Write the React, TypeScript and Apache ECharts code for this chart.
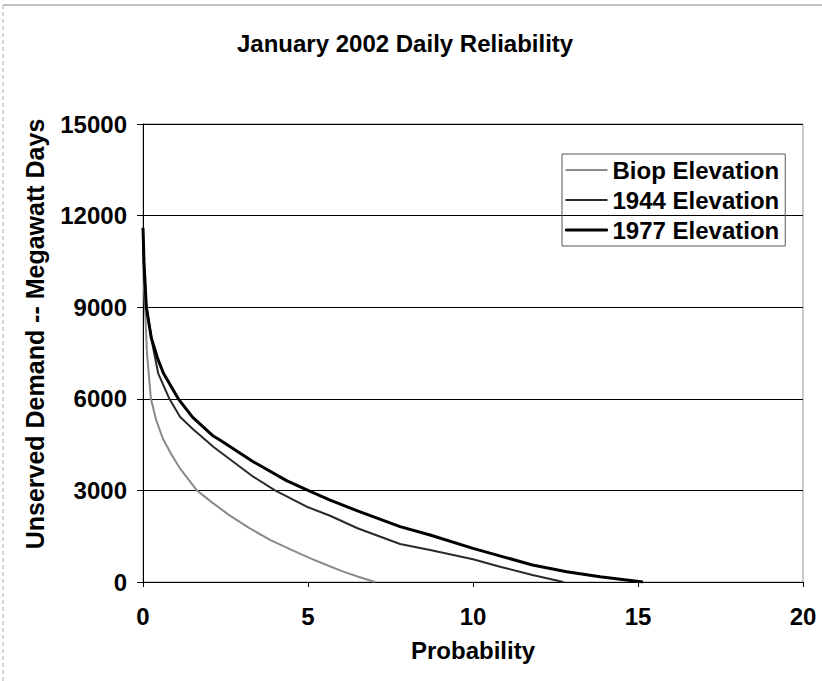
import React, { useEffect, useRef } from "react";
import * as echarts from "echarts";

const titleText = "January 2002 Daily Reliability";
const xAxisName = "Probability";
const yAxisName = "Unserved Demand -- Megawatt Days";
const seriesNames = ["Biop Elevation", "1944 Elevation", "1977 Elevation"];

const biopData: [number, number][] = [
  [0, 11500], [0.02, 10000], [0.06, 9000], [0.12, 7500], [0.24, 6000],
  [0.4, 5300], [0.6, 4700], [0.85, 4200], [1.12, 3720], [1.63, 3000],
  [2.1, 2600], [2.6, 2200], [3.2, 1780], [3.85, 1380], [4.5, 1050],
  [5.06, 780], [5.6, 540], [6.07, 340], [6.5, 180], [7.03, 0],
];

const e1944Data: [number, number][] = [
  [0, 11500], [0.04, 9900], [0.11, 9000], [0.3, 7700], [0.46, 6835],
  [0.8, 6000], [1.12, 5414], [1.5, 5020], [2.13, 4431], [2.33, 4267],
  [3.34, 3449], [4.0, 3000], [4.96, 2466], [5.67, 2170], [6.5, 1760],
  [7.79, 1244], [8.7, 1050], [10, 743], [10.82, 502], [11.8, 229], [12.74, 0],
];

const e1977Data: [number, number][] = [
  [0, 11600], [0.03, 10500], [0.1, 9000], [0.25, 8000], [0.45, 7300],
  [0.62, 6835], [1.07, 6000], [1.5, 5400], [2.13, 4780], [2.33, 4650],
  [3.34, 3940], [4.35, 3320], [5.0, 3000], [5.67, 2680], [6.5, 2330],
  [7.79, 1812], [8.7, 1540], [10, 1103], [11.8, 557], [12.84, 338],
  [13.85, 175], [15.15, 0],
];

const yTickLabels = ["0", "3000", "6000", "9000", "12000", "15000"];

const FONT = "'Liberation Sans', Arial, sans-serif";
const TXT = { fontFamily: FONT, fontSize: 24, fontWeight: "bold", color: "#000" };

export default function App() {
  const ref = useRef<HTMLDivElement>(null);
  useEffect(() => {
    document.body.style.margin = "0";
    if (!ref.current) return;
    const chart = echarts.init(ref.current, undefined, { renderer: "svg" });
    const colors = ["#8a8a8a", "#2a2a2a", "#000000"];
    chart.setOption({
      animation: false,
      backgroundColor: "#ffffff",
      textStyle: { fontFamily: FONT },
      title: {
        text: titleText,
        left: 232,
        top: 26,
        textStyle: TXT,
      },
      legend: {
        orient: "vertical",
        left: 562,
        top: 154,
        padding: [3, 6, 3, 3],
        borderColor: "#555",
        borderWidth: 1,
        itemWidth: 42,
        itemHeight: 2,
        itemGap: 4,
        icon: "rect",
        data: seriesNames.map((n, i) => ({
          name: n,
          icon: "rect",
          itemStyle: {
            color: colors[i],
            borderColor: colors[i],
            borderWidth: i === 2 ? 1 : 0,
          },
        })),
        textStyle: { ...TXT, lineHeight: 26 },
      },
      grid: { left: 143, right: 19, top: 124, bottom: 99, show: true, borderColor: "#999", borderWidth: 1 },
      xAxis: {
        type: "value",
        min: 0,
        max: 20,
        interval: 5,
        name: xAxisName,
        nameLocation: "middle",
        nameGap: 56,
        nameTextStyle: TXT,
        axisLine: { lineStyle: { color: "#000", width: 1 } },
        axisTick: { show: true, length: 5, lineStyle: { color: "#000" } },
        axisLabel: { margin: 22, ...TXT },
        splitLine: { show: false },
      },
      yAxis: {
        type: "value",
        min: 0,
        max: 15000,
        interval: 3000,
        axisLine: { show: true, lineStyle: { color: "#000", width: 1 } },
        axisTick: { show: true, length: 6, lineStyle: { color: "#000" } },
        axisLabel: {
          margin: 16,
          ...TXT,
          formatter: (v: number) => yTickLabels[Math.round(v / 3000)] ?? String(v),
        },
        splitLine: { show: true, lineStyle: { color: "#000", width: 1 } },
      },
      graphic: [
        { type: "line", shape: { x1: 3, y1: 5, x2: 822, y2: 5 }, style: { stroke: "#888", lineWidth: 1 } },
        { type: "line", shape: { x1: 3, y1: 5, x2: 3, y2: 681 }, style: { stroke: "#aaa", lineWidth: 1, lineDash: [4, 3] } },
        {
          type: "text",
          x: 35,
          y: 334,
          rotation: Math.PI / 2,
          style: {
            text: yAxisName,
            fontFamily: FONT,
            fontSize: 25,
            fontWeight: "bold",
            fill: "#000",
            align: "center",
            verticalAlign: "middle",
          },
        },
      ],
      series: [
        {
          name: seriesNames[0],
          type: "line",
          data: biopData,
          symbol: "none",
          lineStyle: { color: colors[0], width: 2 },
          itemStyle: { color: colors[0] },
        },
        {
          name: seriesNames[1],
          type: "line",
          data: e1944Data,
          symbol: "none",
          lineStyle: { color: colors[1], width: 2 },
          itemStyle: { color: colors[1] },
        },
        {
          name: seriesNames[2],
          type: "line",
          data: e1977Data,
          symbol: "none",
          lineStyle: { color: colors[2], width: 3 },
          itemStyle: { color: colors[2] },
        },
      ],
    });
    return () => chart.dispose();
  }, []);
  return <div ref={ref} style={{ width: 822, height: 681 }} />;
}
